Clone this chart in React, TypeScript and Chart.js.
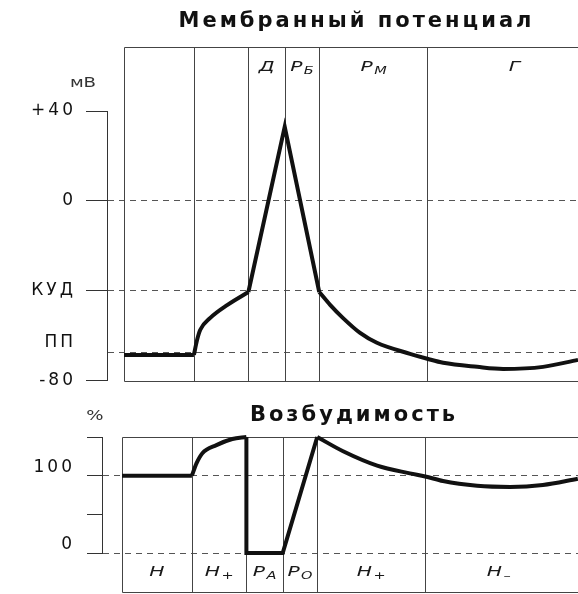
import React, { useEffect, useRef } from 'react';
import { Chart, registerables } from 'chart.js';

Chart.register(...registerables);

const FONT = '"DejaVu Sans", "Liberation Sans", sans-serif';

// Phase boundaries on the common time axis (arbitrary units)
const PHASE_BOUNDS = [0, 15.4, 27.4, 35.4, 43, 66.8];

// ---------- Membrane potential ----------
const MP_TITLE = 'Мембранный потенциал';
const MP_UNIT = 'мВ';
const KUD = -40;
const PP = -67.5;
const MP_TICK_VALUES = [-80, PP, KUD, 0, 40];
const MP_TICK_LABELS = ['-80', 'ПП', 'КУД', '0', '+40'];
const MP_DASHED = [PP, KUD, 0];
const MP_REST_X = [0, 15.4];
const MP_REST_Y = [-68.5, -68.5];
const MP_RISE_X = [15.4, 16.1, 16.8, 19, 22.8, 27.4];
const MP_RISE_Y = [-68.5, -61.8, -57.3, -52, -46.2, -40.5];
const MP_SPIKE_X = [27.4, 35.4, 43];
const MP_SPIKE_Y = [-40.5, 33, -40.5];
const MP_DECAY_X = [43, 45.4, 48.2, 52, 55.7, 63, 66.8, 70.3, 77.8, 83.5, 92.3, 100];
const MP_DECAY_Y = [-40.5, -46.2, -52, -58.7, -63.1, -68, -70.2, -72, -73.8, -74.7, -73.8, -70.7];
const MP_PHASE_MAIN = ['Д', 'Р', 'Р', 'Г'];
const MP_PHASE_SUB = ['', 'Б', 'М', ''];
const MP_PHASE_X = [31.4, 39.2, 55, 86];

// ---------- Excitability ----------
const EX_TITLE = 'Возбудимость';
const EX_UNIT = '%';
const EX_TICK_VALUES = [0, 50, 100, 150];
const EX_TICK_LABELS = ['0', '', '100', ''];
const EX_DASHED = [0, 100];
const EX_REST_X = [0, 15.4];
const EX_REST_Y = [100, 100];
const EX_RISE_X = [15.4, 16.4, 17.7, 20.8, 24.3, 27.4];
const EX_RISE_Y = [100, 115.8, 129, 139.5, 147.4, 150];
const EX_REFRACT_X = [27.4, 27.4, 35.4, 43];
const EX_REFRACT_Y = [150, 0, 0, 150];
const EX_DECAY_X = [43, 48.7, 56.2, 63.4, 66.8, 70.7, 78.2, 85.5, 92.7, 100.4];
const EX_DECAY_Y = [150, 131.6, 113, 103, 99, 93, 87, 85.5, 88, 96];
const EX_PHASE_MAIN = ['Н', 'Н', 'Р', 'Р', 'Н', 'Н'];
const EX_PHASE_SUB = ['', '+', 'А', 'О', '+', '–'];
const EX_PHASE_X = [7.7, 21.4, 31.4, 39.2, 54.9, 83];

const pts = (xs: number[], ys: number[]) => xs.map((x, i) => ({ x, y: ys[i] }));

const spacingPlugin = {
  id: 'spacing',
  beforeDraw(chart: any) {
    chart.ctx.letterSpacing = '3px';
  },
  afterDraw(chart: any) {
    chart.ctx.letterSpacing = '0px';
  },
};

function drawStretched(ctx: any, text: string, cx: number, cy: number, font: string, stretch: number) {
  ctx.save();
  ctx.translate(cx, cy);
  ctx.scale(stretch, 1);
  ctx.font = font;
  ctx.textAlign = 'center';
  ctx.textBaseline = 'middle';
  ctx.fillText(text, 0, 0);
  ctx.restore();
}

function drawPhaseLabel(ctx: any, cx: number, cy: number, main: string, sub: string) {
  const size = 14;
  const subSize = 10;
  const stretch = 1.45;
  ctx.save();
  ctx.translate(cx, cy);
  ctx.scale(stretch, 1);
  ctx.textBaseline = 'middle';
  ctx.textAlign = 'left';
  const mainFont = `italic ${size}px ${FONT}`;
  const subFont = `italic ${subSize}px ${FONT}`;
  ctx.font = mainFont;
  const w1 = ctx.measureText(main).width;
  ctx.font = subFont;
  const w2 = sub ? ctx.measureText(sub).width + 1 : 0;
  const x0 = -(w1 + w2) / 2;
  ctx.font = mainFont;
  ctx.fillText(main, x0, 0);
  if (sub) {
    ctx.font = subFont;
    ctx.fillText(sub, x0 + w1 + 1, 4);
  }
  ctx.restore();
}

const decorPlugin = {
  id: 'decor',
  beforeDatasetsDraw(chart: any, _args: any, opts: any) {
    const { ctx, chartArea } = chart;
    const xs = chart.scales.x;
    const ys = chart.scales.y;
    const a = (v: number) => Math.round(v) + 0.5;
    const left = a(xs.getPixelForValue(opts.bounds[0]));
    const right = chartArea.right;
    const top = a(ys.getPixelForValue(opts.frameTop));
    const bottom = a(ys.getPixelForValue(opts.frameBottom));
    ctx.save();
    ctx.letterSpacing = '0px';
    ctx.strokeStyle = '#444';
    ctx.lineWidth = 1;
    ctx.setLineDash([]);
    ctx.beginPath();
    ctx.moveTo(left, top);
    ctx.lineTo(right, top);
    ctx.moveTo(left, bottom);
    ctx.lineTo(right, bottom);
    opts.bounds.forEach((b: number) => {
      const x = a(xs.getPixelForValue(b));
      ctx.moveTo(x, top);
      ctx.lineTo(x, bottom);
    });
    ctx.stroke();

    ctx.fillStyle = '#1a1a1a';
    opts.phaseMain.forEach((m: string, i: number) => {
      drawPhaseLabel(ctx, xs.getPixelForValue(opts.phaseX[i]), ys.getPixelForValue(opts.phaseY), m, opts.phaseSub[i]);
    });

    ctx.fillStyle = '#333';
    drawStretched(
      ctx,
      opts.unit,
      chartArea.left + opts.unitDx,
      ys.getPixelForValue(opts.unitY),
      `${opts.unitSize}px ${FONT}`,
      1.3
    );
    ctx.restore();
  },
};

function makeConfig(p: any): any {
  const lineDs = (xs: number[], ys: number[], smooth: boolean) => ({
    data: pts(xs, ys),
    borderColor: '#111',
    borderWidth: 4,
    pointRadius: 0,
    fill: false,
    clip: false,
    tension: smooth ? 0.4 : 0,
    cubicInterpolationMode: smooth ? 'monotone' : 'default',
  });
  return {
    type: 'line',
    data: {
      datasets: p.series.map((s: any) => lineDs(s[0], s[1], s[2])),
    },
    options: {
      responsive: false,
      animation: false,
      devicePixelRatio: 1,
      events: [],
      layout: { padding: { left: 0, right: 0, top: 0, bottom: p.padBottom } },
      scales: {
        x: { type: 'linear', display: false, min: p.xMin, max: p.xMax },
        y: {
          type: 'linear',
          min: p.yMin,
          max: p.yMax,
          afterBuildTicks: (s: any) => {
            s.ticks = p.tickValues.map((v: number) => ({ value: v }));
          },
          afterFit: (s: any) => {
            s.width = p.axisWidth;
          },
          ticks: {
            color: '#111',
            font: { family: FONT, size: 17 },
            padding: p.labelPadding,
            labelOffset: p.labelOffset,
            callback: (v: number) => {
              const i = p.tickValues.indexOf(v);
              const lab = i >= 0 ? p.tickLabels[i] : '';
              return p.raised && p.raised.includes(v) ? [lab, ''] : lab;
            },
          },
          grid: {
            drawOnChartArea: true,
            drawTicks: true,
            tickLength: p.tickLength,
            lineWidth: 1,
            tickWidth: 1,
            color: (c: any) => (c.tick && p.dashed.includes(c.tick.value) ? '#555' : 'rgba(0,0,0,0)'),
            tickColor: (c: any) => (c.tick && p.noTick && p.noTick.includes(c.tick.value) ? 'rgba(0,0,0,0)' : '#333'),
          },
          border: { display: true, color: '#333', width: 1, dash: [6, 5] },
        },
      },
      plugins: {
        legend: { display: false },
        tooltip: { enabled: false },
        title: {
          display: true,
          text: p.title,
          color: '#111',
          fullSize: false,
          font: { family: FONT, size: 21, weight: 'bold' },
          padding: { top: p.titleTop, bottom: p.titleBottom },
        },
        decor: {
          bounds: PHASE_BOUNDS,
          frameTop: p.frameTop,
          frameBottom: p.frameBottom,
          phaseMain: p.phaseMain,
          phaseSub: p.phaseSub,
          phaseX: p.phaseX,
          phaseY: p.phaseY,
          unit: p.unit,
          unitDx: p.unitDx,
          unitY: p.unitY,
          unitSize: p.unitSize,
        },
      },
    },
    plugins: [spacingPlugin, decorPlugin],
  };
}

const topConfig = () =>
  makeConfig({
    title: MP_TITLE,
    titleTop: 9.4,
    titleBottom: 76.4,
    padBottom: 14,
    xMin: -17 / 4.54,
    xMax: (606 - 124) / 4.54,
    yMin: -80,
    yMax: 40,
    axisWidth: 107,
    tickLength: 21,
    labelPadding: 10,
    labelOffset: 0,
    tickValues: MP_TICK_VALUES,
    tickLabels: MP_TICK_LABELS,
    raised: [PP],
    noTick: [PP],
    dashed: MP_DASHED,
    frameTop: 68.4,
    frameBottom: -80,
    phaseMain: MP_PHASE_MAIN,
    phaseSub: MP_PHASE_SUB,
    phaseX: MP_PHASE_X,
    phaseY: 59.6,
    unit: MP_UNIT,
    unitDx: -24,
    unitY: 52.4,
    unitSize: 14,
    series: [
      [MP_REST_X, MP_REST_Y, false],
      [MP_RISE_X, MP_RISE_Y, true],
      [MP_SPIKE_X, MP_SPIKE_Y, false],
      [MP_DECAY_X, MP_DECAY_Y, true],
    ],
  });

const bottomConfig = () =>
  makeConfig({
    title: EX_TITLE,
    titleTop: 8.4,
    titleBottom: 8.4,
    padBottom: 41,
    xMin: -20 / 4.54,
    xMax: (606 - 122) / 4.54,
    yMin: 0,
    yMax: 150,
    axisWidth: 102,
    tickLength: 15,
    labelPadding: 12,
    labelOffset: -8,
    tickValues: EX_TICK_VALUES,
    tickLabels: EX_TICK_LABELS,
    raised: [],
    noTick: [],
    dashed: EX_DASHED,
    frameTop: 150.5,
    frameBottom: -51,
    phaseMain: EX_PHASE_MAIN,
    phaseSub: EX_PHASE_SUB,
    phaseX: EX_PHASE_X,
    phaseY: -25,
    unit: EX_UNIT,
    unitDx: -7,
    unitY: 177,
    unitSize: 14,
    series: [
      [EX_REST_X, EX_REST_Y, false],
      [EX_RISE_X, EX_RISE_Y, true],
      [EX_REFRACT_X, EX_REFRACT_Y, false],
      [EX_DECAY_X, EX_DECAY_Y, true],
    ],
  });

function ChartCanvas({ makeCfg, top, width, height, z }: any) {
  const ref = useRef<HTMLCanvasElement>(null);
  useEffect(() => {
    const chart = new Chart(ref.current as HTMLCanvasElement, makeCfg());
    return () => chart.destroy();
  }, []);
  return (
    <canvas
      ref={ref}
      width={width}
      height={height}
      style={{ position: 'absolute', left: 0, top, width, height, display: 'block', zIndex: z }}
    />
  );
}

export default function App() {
  return (
    <div
      style={{
        position: 'absolute',
        left: 0,
        top: 0,
        width: 578,
        height: 594,
        overflow: 'hidden',
        background: '#fff',
      }}
    >
      <ChartCanvas makeCfg={topConfig} top={0} width={606} height={401} z={2} />
      <ChartCanvas makeCfg={bottomConfig} top={395} width={606} height={199} z={1} />
    </div>
  );
}
